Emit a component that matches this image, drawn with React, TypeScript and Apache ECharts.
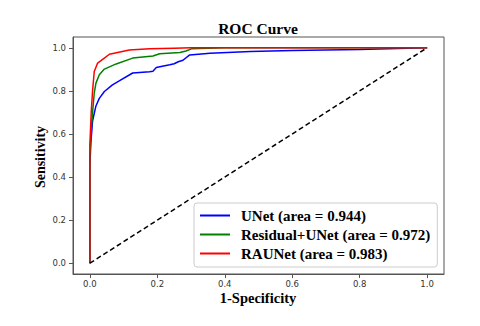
import React, { useEffect, useRef } from 'react';
import * as echarts from 'echarts';

const unetFpr = [0, 0, 0.003, 0.008, 0.018, 0.028, 0.043, 0.067, 0.087, 0.127, 0.177, 0.187, 0.197, 0.215, 0.237, 0.25, 0.262, 0.276, 0.296, 0.356, 0.476, 0.6, 0.8, 1.0];
const unetTpr = [0, 0.45, 0.56, 0.66, 0.73, 0.765, 0.797, 0.828, 0.846, 0.883, 0.889, 0.891, 0.908, 0.914, 0.921, 0.926, 0.935, 0.942, 0.967, 0.975, 0.983, 0.987, 0.992, 1.0];

const greenFpr = [0, 0, 0.004, 0.008, 0.013, 0.018, 0.028, 0.043, 0.078, 0.127, 0.187, 0.207, 0.267, 0.285, 0.301, 0.4, 1.0];
const greenTpr = [0, 0.5, 0.62, 0.7, 0.79, 0.836, 0.875, 0.901, 0.925, 0.952, 0.962, 0.972, 0.978, 0.985, 0.995, 1.0, 1.0];

const redFpr = [0, 0, 0.004, 0.008, 0.013, 0.023, 0.033, 0.058, 0.117, 0.177, 0.25, 0.3, 1.0];
const redTpr = [0, 0.55, 0.7, 0.8, 0.89, 0.929, 0.94, 0.97, 0.99, 0.995, 0.998, 1.0, 1.0];

const chanceFpr = [0, 1];
const chanceTpr = [0, 1];

const seriesNames = ['UNet (area = 0.944)', 'Residual+UNet (area = 0.972)', 'RAUNet (area = 0.983)'];
const seriesColors = ['#0000ff', '#008000', '#ff0000'];

const xTicks = [0, 0.2, 0.4, 0.6, 0.8, 1.0];
const yTicks = [0, 0.2, 0.4, 0.6, 0.8, 1.0];

const titleText = 'ROC Curve';
const xLabelText = '1-Specificity';
const yLabelText = 'Sensitivity';

const pairs = (xs: number[], ys: number[]) => xs.map((x, i) => [x, ys[i]]);

export default function App() {
  const ref = useRef<HTMLDivElement>(null);
  useEffect(() => {
    document.body.style.margin = '0';
    const chart = echarts.init(ref.current!, null, { renderer: 'svg' });
    const axisColor = '#555';
    const tickLabel = {
      fontSize: 8.5,
      color: '#333',
      fontFamily: 'DejaVu Sans',
      formatter: (v: number) => v.toFixed(1),
    };
    const serif = '"Liberation Serif", "Times New Roman", serif';
    chart.setOption({
      animation: false,
      backgroundColor: '#fff',
      grid: {
        left: 73, right: 36, top: 37, bottom: 52,
        show: true, borderColor: axisColor, borderWidth: 1, backgroundColor: 'transparent',
      },
      xAxis: {
        type: 'value', min: -0.05, max: 1.05,
        axisLine: { show: true, onZero: false, lineStyle: { color: axisColor, width: 1 } },
        axisTick: { show: true, customValues: xTicks, length: 4, lineStyle: { color: axisColor } },
        axisLabel: { ...tickLabel, customValues: xTicks, margin: 5 },
        splitLine: { show: false },
      },
      yAxis: {
        type: 'value', min: -0.05, max: 1.05,
        axisLine: { show: true, onZero: false, lineStyle: { color: axisColor, width: 1 } },
        axisTick: { show: true, customValues: yTicks, length: 4, lineStyle: { color: axisColor } },
        axisLabel: { ...tickLabel, customValues: yTicks, margin: 7 },
        splitLine: { show: false },
      },
      legend: {
        data: seriesNames,
        orient: 'vertical',
        left: 194, top: 203,
        padding: [5, 7, 6, 6],
        itemGap: 4,
        icon: 'rect',
        itemWidth: 30,
        itemHeight: 2,
        backgroundColor: 'rgba(255,255,255,0.85)',
        borderColor: '#cccccc',
        borderWidth: 1,
        borderRadius: 3,
        textStyle: {
          fontFamily: serif, fontWeight: 'bold', fontSize: 15, color: '#000',
          lineHeight: 15, padding: [0, 0, 0, 6],
        },
      },
      graphic: [
        { type: 'text', x: 258, y: 28, style: { text: titleText, font: `bold 15.5px ${serif}`, fill: '#000', textAlign: 'center', textVerticalAlign: 'middle' } },
        { type: 'text', x: 258, y: 297.5, style: { text: xLabelText, font: `bold 14.5px ${serif}`, fill: '#000', textAlign: 'center', textVerticalAlign: 'middle' } },
        { type: 'text', x: 40, y: 157, rotation: Math.PI / 2, style: { text: yLabelText, font: `bold 14px ${serif}`, fill: '#000', textAlign: 'center', textVerticalAlign: 'middle' } },
      ],
      series: [
        ...[pairs(unetFpr, unetTpr), pairs(greenFpr, greenTpr), pairs(redFpr, redTpr)].map((d, i) => ({
          type: 'line', name: seriesNames[i], data: d, symbol: 'none',
          lineStyle: { color: seriesColors[i], width: 1.5 }, itemStyle: { color: seriesColors[i] },
          z: 2 + i,
        })),
        {
          type: 'line', name: 'chance', data: pairs(chanceFpr, chanceTpr), symbol: 'none', silent: true,
          lineStyle: { color: '#000', width: 1.5, type: [5, 3] }, z: 6,
        },
      ],
    });
    return () => chart.dispose();
  }, []);
  return <div ref={ref} style={{ width: 480, height: 326 }} />;
}
